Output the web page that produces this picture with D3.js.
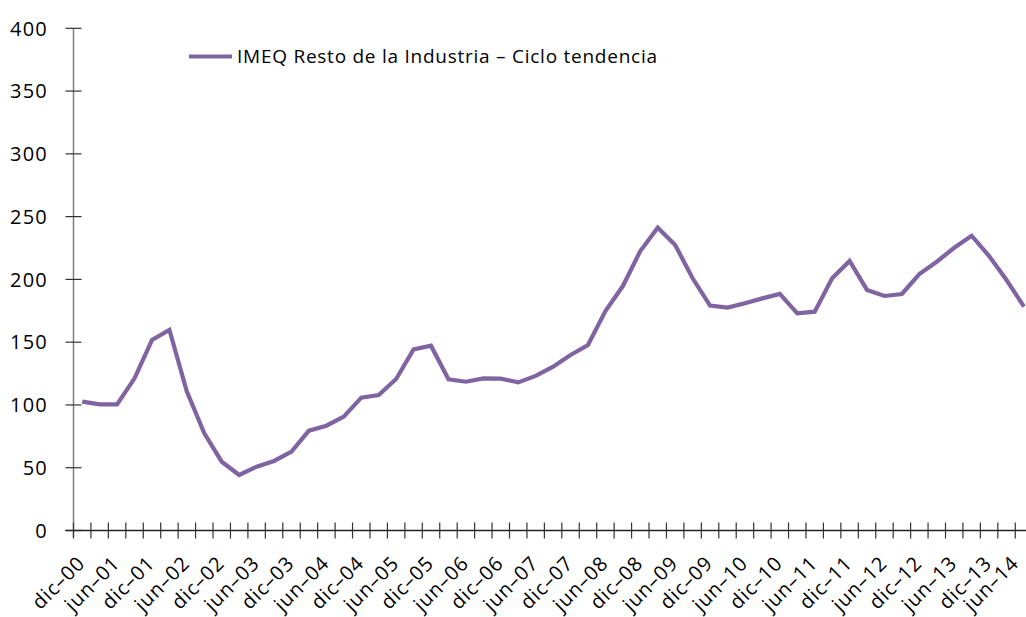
<!DOCTYPE html>
<html><head><meta charset="utf-8">
<script src="https://cdn.jsdelivr.net/npm/d3@7"></script>
<style>
body{margin:0;background:#fff;}
text{font-family:"Open Sans",sans-serif;fill:#000;}
</style></head>
<body><svg id="c" width="1026" height="617"></svg>
<script>
const seriesName = "IMEQ Resto de la Industria – Ciclo tendencia";
const categories = (function(){
  const m=["dic","mar","jun","sep"]; const out=[];
  // quarters from dic-00 to jun-14
  let y=0, q=0;
  for(let i=0;i<55;i++){
    const yr = q===0 ? y : y+1;
    out.push(m[q]+"–"+String(yr).padStart(2,"0"));
    q++; if(q===4){q=0;y++;}
  }
  return out;
})();
const values = [102.6,100.5,100.4,121.2,151.7,159.7,110.6,77.4,54.8,44.2,
  50.8,55.4,62.8,79.5,83.5,90.7,105.8,107.9,120.7,144.3,
  147.2,120.4,118.5,121.2,121.0,118.0,123.1,130.5,139.8,147.7,
  174.8,194.7,222.6,241.2,227.4,200.9,179.1,177.5,181.0,184.9,
  188.4,173.0,174.3,200.9,214.7,191.6,186.8,188.4,204.3,214.1,
  225.2,234.8,218.6,199.5,178.3];
const yTicks = [0,50,100,150,200,250,300,350,400];

const svg = d3.select("#c");
const x0 = 73.5, xStep = 17.44;
const x = d3.scaleBand().domain(categories).range([x0, x0 + xStep*categories.length]).paddingInner(0).paddingOuter(0);
const y = d3.scaleLinear().domain([0,400]).range([530.5, 28.3]);

// y axis
const ya = svg.append("g");
ya.append("line").attr("x1",x0).attr("x2",x0).attr("y1",y(400)).attr("y2",y(0)+7).attr("stroke","#808080").attr("stroke-width",1.5);
ya.selectAll("line.t").data(yTicks).join("line").attr("class","t")
  .attr("x1",x0-8).attr("x2",x0+8).attr("y1",d=>y(d)).attr("y2",d=>y(d)).attr("stroke","#333").attr("stroke-width",1.2);
ya.selectAll("text").data(yTicks).join("text")
  .attr("x",48).attr("y",d=>y(d)).attr("dy","0.36em").attr("text-anchor","end")
  .attr("font-size",20).attr("letter-spacing",1.2).text(d=>d);

// x axis
const xa = svg.append("g");
xa.append("line").attr("x1",x0-8).attr("x2",1026).attr("y1",y(0)).attr("y2",y(0)).attr("stroke","#222").attr("stroke-width",1.5);
const tickPos = categories.map(c=>x(c));
xa.selectAll("line.t").data(tickPos).join("line").attr("class","t")
  .attr("x1",d=>d).attr("x2",d=>d).attr("y1",y(0)-8).attr("y2",y(0)+8).attr("stroke","#333").attr("stroke-width",1.2);
const labelCats = categories.filter((c,i)=>i%2===0);
xa.selectAll("text").data(labelCats).join("text")
  .attr("text-anchor","end").attr("font-size",20).attr("letter-spacing",0.9)
  .attr("transform",d=>`translate(${Math.min(x(d)+x.bandwidth()/2+4,1020)},${y(0)+34}) rotate(-45)`)
  .text(d=>d);

// line
const line = d3.line().x((d,i)=>x(categories[i])+x.bandwidth()/2).y(d=>y(d));
svg.append("path").datum(values).attr("d",line).attr("fill","none")
  .attr("stroke","#8064A2").attr("stroke-width",4.2).attr("stroke-linejoin","miter");

// legend
svg.append("line").attr("x1",189).attr("x2",232).attr("y1",56.5).attr("y2",56.5).attr("stroke","#8064A2").attr("stroke-width",4.2);
svg.append("text").attr("x",237).attr("y",56.5).attr("dy","0.36em").attr("font-size",19)
  .attr("textLength",420).attr("lengthAdjust","spacing").text(seriesName);
</script></body></html>
